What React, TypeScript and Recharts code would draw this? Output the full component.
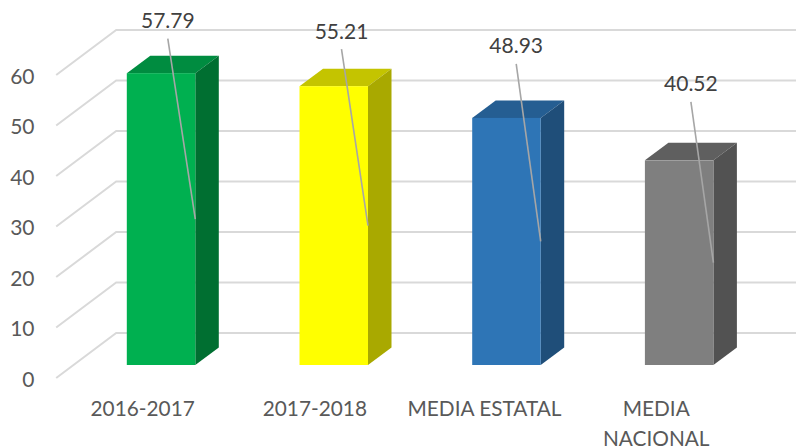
import { BarChart, Bar, XAxis, YAxis, CartesianGrid, LabelList } from 'recharts';

const categories = ['2016-2017', '2017-2018', 'MEDIA ESTATAL', 'MEDIA NACIONAL'];
const values = [57.79, 55.21, 48.93, 40.52];
const yTicks = [0, 10, 20, 30, 40, 50, 60];

const frontColors = ['#00b050', '#ffff00', '#2e75b6', '#7f7f7f'];
const topColors = ['#008c40', '#c4c400', '#255e92', '#5f5f5f'];
const sideColors = ['#006f31', '#a9a900', '#1f4e79', '#525252'];

// wrapped x labels, the last one does not fit on a single line
const categoryLines = [['2016-2017'], ['2017-2018'], ['MEDIA ESTATAL'], ['MEDIA', 'NACIONAL']];
const categoryDx = [-18.5, -19, -22, -23];
// where each dragged data label sits, relative to the bar's top right corner
const labelDx = [-27.5, -26.5, -24.5, -22.5];
const labelDy = [-53.5, -56, -73, -77.5];

const FONT = 'Lato, Carlito, sans-serif';
const DEPTH_X = 23.5;
const DEPTH_Y = 17.5;
const data = categories.map((name, i) => ({ name, value: values[i] }));

/** Floor + back wall line for one gridline value. */
const GridLine = ({ x1, x2, y1 }: any) => (
  <polyline
    points={`${x1 - 18.6},${y1 + 13} ${x1 + 41.4},${y1 - 32} ${x2 + 31},${y1 - 32}`}
    fill="none" stroke="#d9d9d9" strokeWidth={2}
  />
);

const Box = ({ x, y, width, height, index }: any) => {
  const r = x + width;
  const b = y + height;
  return (
    <g>
      <polygon points={`${x},${y} ${x + DEPTH_X},${y - DEPTH_Y} ${r + DEPTH_X},${y - DEPTH_Y} ${r},${y}`} fill={topColors[index]} />
      <polygon points={`${r},${y} ${r + DEPTH_X},${y - DEPTH_Y} ${r + DEPTH_X},${b - DEPTH_Y} ${r},${b}`} fill={sideColors[index]} />
      <rect x={x} y={y} width={width} height={height} fill={frontColors[index]} />
    </g>
  );
};

const LeaderLabel = ({ x, y, width, height, value, index }: any) => {
  const cx = x + width + labelDx[index];
  const cy = y + labelDy[index];
  return (
    <g>
      <line x1={cx} y1={cy + 19} x2={x + width} y2={y + height / 2} stroke="#a6a6a6" strokeWidth={1.6} />
      <text x={cx} y={cy} textAnchor="middle" dominantBaseline="central" fontFamily={FONT} fontSize={21} fill="#404040">
        {value}
      </text>
    </g>
  );
};

const YTick = ({ y, payload }: any) => (
  <text x={34.5} y={y + 13} textAnchor="end" dominantBaseline="central" fontFamily={FONT} fontSize={21} fill="#595959">
    {payload.value}
  </text>
);

const XTick = ({ x, payload, index }: any) => (
  <text textAnchor="middle" fontFamily={FONT} fontSize={20.8} fill="#595959">
    {categoryLines[index].map((line, i) => (
      <tspan key={line} x={x + categoryDx[index]} y={416 + i * 30}>{line}</tspan>
    ))}
  </text>
);

export default function App() {
  return (
    <div style={{ position: 'absolute', left: 0, top: 0, width: 796, height: 447, background: '#fff' }}>
      <BarChart
        width={796} height={447} data={data}
        margin={{ top: 62, right: 30.4, bottom: 0, left: 34.8 }}
      >
        <CartesianGrid vertical={false} horizontal={(p: any) => <GridLine key={p.y1} {...p} />} />
        <XAxis dataKey="name" height={82} axisLine={false} tickLine={false} interval={0} tick={XTick} />
        <YAxis width={40} domain={[0, 60]} ticks={yTicks} axisLine={false} tickLine={false} tick={YTick} />
        <Bar dataKey="value" barSize={68.5} shape={Box} isAnimationActive={false}>
          <LabelList dataKey="value" content={LeaderLabel} />
        </Bar>
      </BarChart>
    </div>
  );
}
